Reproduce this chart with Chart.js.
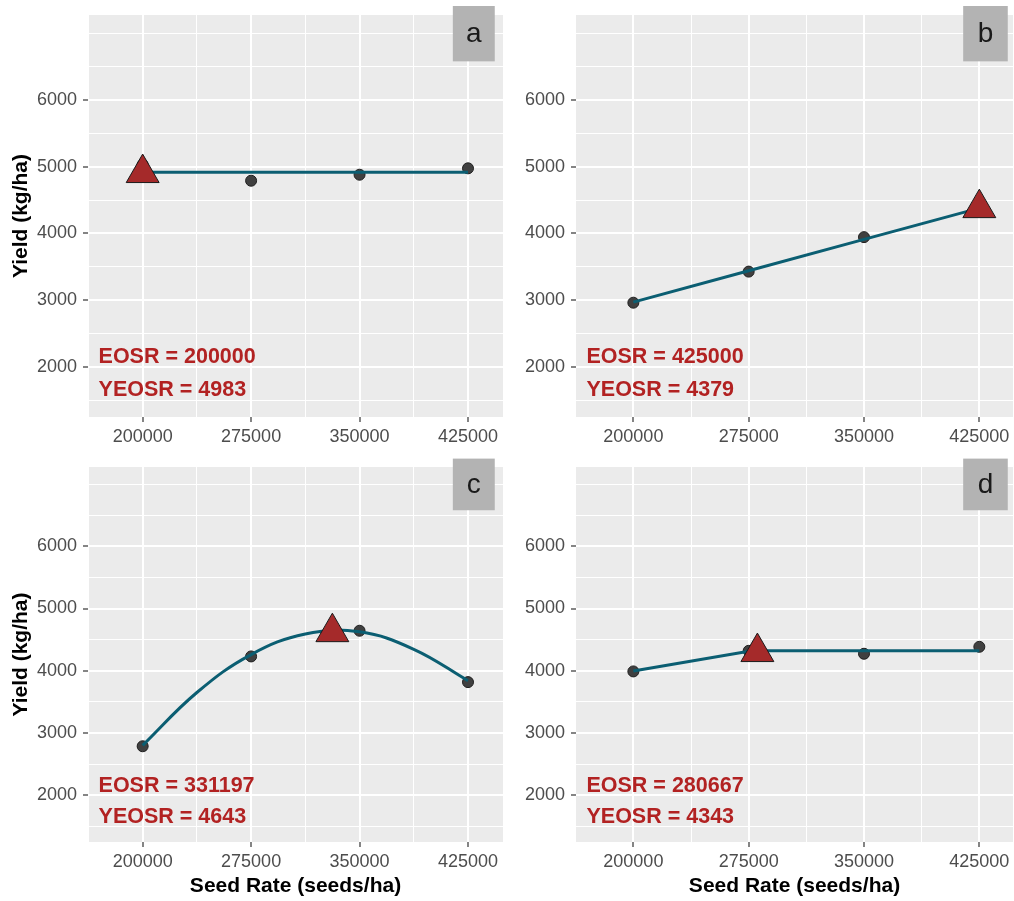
<!DOCTYPE html>
<html>
<head>
<meta charset="utf-8">
<script src="https://cdn.jsdelivr.net/npm/chart.js@4.4.1/dist/chart.umd.min.js"></script>
<style>
html,body{margin:0;padding:0;background:#ffffff;}
#wrap{position:relative;width:1014px;height:901px;}
#wrap canvas{position:absolute;left:0;top:0;}
</style>
</head>
<body>
<div id="wrap">
<canvas id="pa" width="1014" height="901"></canvas>
<canvas id="pb" width="1014" height="901"></canvas>
<canvas id="pc" width="1014" height="901"></canvas>
<canvas id="pd" width="1014" height="901"></canvas>
</div>
<script>
// ---------------- data ----------------
const seedRates = [200000, 275000, 350000, 425000];
const yieldA = [5030, 4790, 4880, 4976];
const yieldB = [2961, 3427, 3944, 4360];
const yieldC = [2786, 4230, 4643, 3817];
const yieldD = [3989, 4320, 4273, 4385];

const fitXA = [200000, 425000];
const fitYA = [4918, 4918];
const fitXB = [200000, 275000, 350000, 425000];
const fitYB = [2970, 3440, 3910, 4379];
const fitXC = [200000, 237500, 275000, 312500, 350000, 387500, 425000];
const fitYC = [2800, 3650, 4260, 4590, 4625, 4345, 3840];
const fitXD = [200000, 277000, 425000];
const fitYD = [3995, 4322, 4322];

const eosr = [200000, 425000, 331197, 280667];
const yeosr = [4983, 4379, 4643, 4343];
const triangleY = [4905, 4379, 4620, 4300];
const panelLabels = ['a', 'b', 'c', 'd'];

const yMajor = [2000, 3000, 4000, 5000, 6000];
const yGrid = [1500, 2000, 2500, 3000, 3500, 4000, 4500, 5000, 5500, 6000, 6500, 7000];
const xMajor = seedRates;
const xGrid = [162500, 200000, 237500, 275000, 312500, 350000, 387500, 425000];

// ---------------- style ----------------
const FONT = "'Liberation Sans', Arial, sans-serif";
const LINE_COLOR = '#0B5E72';
const POINT_FILL = '#404040';
const TRI_FILL = '#A52A2A';
const TEXT_RED = '#B22222';
const PANEL_BG = '#EBEBEB';
const STRIP_BG = '#B3B3B3';

const panels = [
  {id:'pa', area:{left:88, top:15, right:503, bottom:417}, padLeft:0, xr:[162200, 449200], yTitle:true, xTitle:false,
   pts:yieldA, fx:fitXA, fy:fitYA, tension:0},
  {id:'pb', area:{left:576, top:15, right:1013, bottom:417}, padLeft:500, xr:[162700, 446900], yTitle:false, xTitle:false,
   pts:yieldB, fx:fitXB, fy:fitYB, tension:0},
  {id:'pc', area:{left:88, top:467, right:503, bottom:842}, padLeft:0, xr:[162200, 449200], yTitle:true, xTitle:true,
   pts:yieldC, fx:fitXC, fy:fitYC, tension:0.4},
  {id:'pd', area:{left:576, top:467, right:1013, bottom:842}, padLeft:500, xr:[162700, 446900], yTitle:false, xTitle:true,
   pts:yieldD, fx:fitXD, fy:fitYD, tension:0}
];
const yRange = [1247, 7275];

function makeOverlay(i) {
  return {
    id: 'overlay' + i,
    beforeDraw(chart) {
      const a = chart.chartArea, ctx = chart.ctx;
      ctx.save();
      ctx.fillStyle = PANEL_BG;
      ctx.fillRect(a.left, a.top, a.right - a.left, a.bottom - a.top);
      ctx.restore();
    },
    afterDatasetsDraw(chart) {
      const ctx = chart.ctx, xs = chart.scales.x, ys = chart.scales.y;
      ctx.save();
      ctx.fillStyle = TEXT_RED;
      ctx.font = "bold 21.5px " + FONT;
      ctx.textAlign = 'left';
      ctx.textBaseline = 'middle';
      const tx = xs.getPixelForValue(169500);
      ctx.fillText('EOSR = ' + eosr[i], tx, ys.getPixelForValue(2150));
      ctx.fillText('YEOSR = ' + yeosr[i], tx, ys.getPixelForValue(1650));
      ctx.restore();
    },
    afterDraw(chart) {
      const ctx = chart.ctx, xs = chart.scales.x, ys = chart.scales.y;
      const x1 = xs.getPixelForValue(414500), x2 = xs.getPixelForValue(443500);
      const y1 = ys.getPixelForValue(7410), y2 = ys.getPixelForValue(6580);
      ctx.save();
      ctx.fillStyle = STRIP_BG;
      ctx.fillRect(x1, y1, x2 - x1, y2 - y1);
      ctx.fillStyle = '#1A1A1A';
      ctx.font = "28px " + FONT;
      ctx.textAlign = 'center';
      ctx.textBaseline = 'middle';
      ctx.fillText(panelLabels[i], (x1 + x2) / 2, (y1 + y2) / 2 + 1);
      ctx.restore();
    }
  };
}

panels.forEach((p, i) => {
  const xAxisH = p.xTitle ? 901 - p.area.bottom : 30;
  const yAxisW = p.area.left - p.padLeft;
  const cfg = {
    type: 'scatter',
    data: {
      datasets: [
        {
          label: 'EOSR',
          data: [{x: eosr[i], y: triangleY[i]}],
          pointStyle: 'triangle',
          pointRadius: 19,
          pointBackgroundColor: TRI_FILL,
          pointBorderColor: '#1A1A1A',
          pointBorderWidth: 1,
          order: 0
        },
        {
          label: 'fit',
          data: p.fx.map((x, k) => ({x: x, y: p.fy[k]})),
          showLine: true,
          borderColor: LINE_COLOR,
          borderWidth: 3,
          pointRadius: 0,
          tension: p.tension,
          order: 1
        },
        {
          label: 'observed',
          data: seedRates.map((x, k) => ({x: x, y: p.pts[k]})),
          pointRadius: 5.5,
          pointBackgroundColor: POINT_FILL,
          pointBorderColor: '#1F1F1F',
          pointBorderWidth: 1,
          order: 2
        }
      ]
    },
    options: {
      responsive: false,
      animation: false,
      devicePixelRatio: 1,
      events: [],
      layout: {
        autoPadding: false,
        padding: {
          left: p.padLeft,
          top: p.area.top,
          right: 1014 - p.area.right,
          bottom: 901 - p.area.bottom - xAxisH
        }
      },
      plugins: { legend: {display: false}, tooltip: {enabled: false} },
      scales: {
        x: {
          type: 'linear',
          min: p.xr[0],
          max: p.xr[1],
          afterBuildTicks: s => { s.ticks = xGrid.filter(v => v >= p.xr[0] && v <= p.xr[1]).map(v => ({value: v})); },
          afterFit: s => { s.height = xAxisH; s.paddingLeft = 0; s.paddingRight = 0; s.paddingTop = 0; s.paddingBottom = 0; },
          border: {display: false},
          grid: {
            color: '#FFFFFF',
            lineWidth: c => (c.tick && xMajor.includes(c.tick.value)) ? 2 : 1,
            tickColor: c => (c.tick && xMajor.includes(c.tick.value)) ? '#333333' : 'rgba(0,0,0,0)',
            tickWidth: 1.2,
            tickLength: 5,
            drawTicks: true
          },
          ticks: {
            autoSkip: false,
            maxRotation: 0,
            minRotation: 0,
            padding: 4,
            color: '#4D4D4D',
            font: {family: FONT, size: 18},
            callback: v => xMajor.includes(v) ? String(v) : ''
          },
          title: {
            display: p.xTitle,
            text: 'Seed Rate (seeds/ha)',
            color: '#000000',
            font: {family: FONT, size: 21, weight: 'bold'},
            padding: {top: 0, bottom: 2}
          }
        },
        y: {
          type: 'linear',
          min: yRange[0],
          max: yRange[1],
          afterBuildTicks: s => { s.ticks = yGrid.map(v => ({value: v})); },
          afterFit: s => { s.width = yAxisW; s.paddingLeft = 0; s.paddingRight = 0; s.paddingTop = 0; s.paddingBottom = 0; },
          border: {display: false},
          grid: {
            color: '#FFFFFF',
            lineWidth: c => (c.tick && yMajor.includes(c.tick.value)) ? 2 : 1,
            tickColor: c => (c.tick && yMajor.includes(c.tick.value)) ? '#333333' : 'rgba(0,0,0,0)',
            tickWidth: 1.2,
            tickLength: 5,
            drawTicks: true
          },
          ticks: {
            autoSkip: false,
            padding: 6,
            color: '#4D4D4D',
            font: {family: FONT, size: 18},
            callback: v => yMajor.includes(v) ? String(v) : ''
          },
          title: {
            display: p.yTitle,
            text: 'Yield (kg/ha)',
            color: '#000000',
            font: {family: FONT, size: 21, weight: 'bold'},
            padding: {top: 9, bottom: 0}
          }
        }
      }
    },
    plugins: [makeOverlay(i)]
  };
  new Chart(document.getElementById(p.id), cfg);
});
</script>
</body>
</html>
